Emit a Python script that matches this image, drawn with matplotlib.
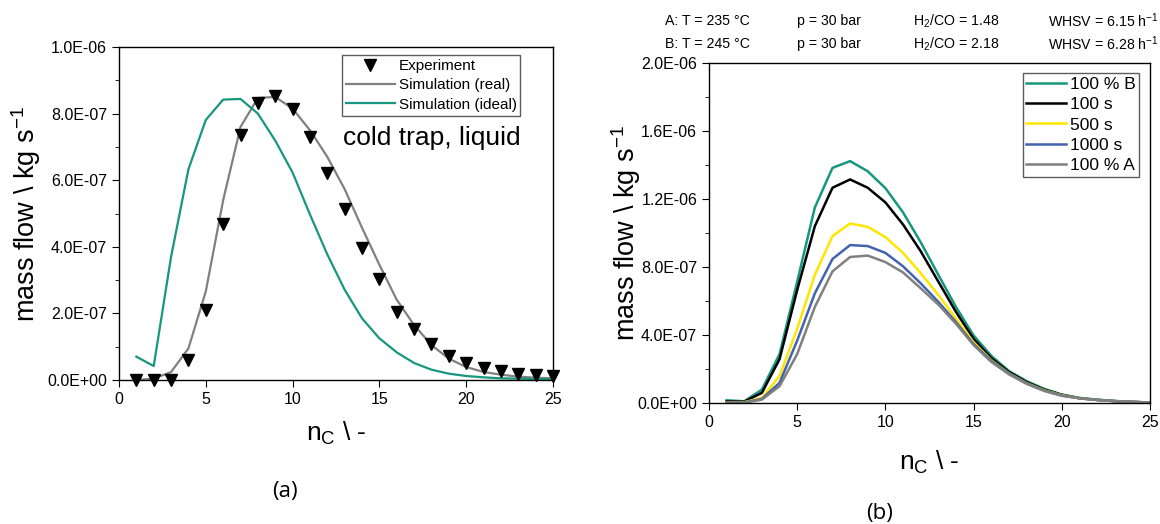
import matplotlib
matplotlib.use("Agg")
import matplotlib.pyplot as plt
from matplotlib.ticker import FuncFormatter, MultipleLocator

plt.rcParams['font.family'] = ['Liberation Sans', 'DejaVu Sans']

# ---- panel (a): cold trap, liquid ----
nc = list(range(1, 26))
experiment = [0.0, 0.0, 0.0, 0.6, 2.1, 4.67, 7.37, 8.32, 8.54, 8.14, 7.29, 6.21, 5.13,
              3.97, 3.03, 2.05, 1.53, 1.08, 0.72, 0.50, 0.36, 0.26, 0.19, 0.14, 0.11]
sim_real = [0.0, 0.04, 0.24, 0.95, 2.66, 5.4, 7.6, 8.47, 8.5, 8.15, 7.5, 6.7, 5.73,
            4.57, 3.46, 2.41, 1.65, 1.05, 0.64, 0.39, 0.24, 0.16, 0.10, 0.07, 0.05]
sim_ideal = [0.7, 0.42, 3.7, 6.33, 7.81, 8.42, 8.44, 8.0, 7.19, 6.23, 4.97, 3.77, 2.71,
             1.85, 1.25, 0.83, 0.51, 0.31, 0.19, 0.12, 0.08, 0.05, 0.04, 0.03, 0.02]

# ---- panel (b): transition A -> B ----
tail = [0.28, 0.18, 0.11, 0.06, 0.03]
b_full = [0.16, 0.10, 0.79, 2.88, 7.14, 11.5, 13.83, 14.23, 13.63, 12.64, 11.21, 9.46, 7.54,
          5.65, 3.97, 2.78, 1.88, 1.29, 0.83, 0.50] + [0.30, 0.20, 0.12, 0.07, 0.03]
t100 = [0.10, 0.08, 0.60, 2.58, 6.65, 10.4, 12.66, 13.15, 12.66, 11.8, 10.5, 8.93, 7.14,
        5.36, 3.77, 2.64, 1.83, 1.23, 0.79, 0.48] + tail
t500 = [0.05, 0.05, 0.30, 1.59, 4.37, 7.54, 9.82, 10.56, 10.36, 9.76, 8.83, 7.64, 6.35,
        4.96, 3.57, 2.52, 1.75, 1.17, 0.75, 0.46] + tail
t1000 = [0.03, 0.03, 0.24, 1.19, 3.67, 6.45, 8.47, 9.29, 9.23, 8.83, 8.04, 7.04, 5.95,
         4.76, 3.47, 2.48, 1.73, 1.15, 0.73, 0.44] + tail
a_full = [0.02, 0.02, 0.20, 0.99, 2.88, 5.65, 7.74, 8.59, 8.67, 8.29, 7.68, 6.75, 5.79,
          4.66, 3.41, 2.42, 1.69, 1.13, 0.71, 0.42] + tail

series_b = [("100 % B", b_full, "#17977f"),
            ("100 s", t100, "black"),
            ("500 s", t500, "#ffe600"),
            ("1000 s", t1000, "#4264b0"),
            ("100 % A", a_full, "#808080")]

header_rows = [["A: T = 235 °C", "p = 30 bar", "H$_\\mathregular{2}$/CO = 1.48",
                "WHSV = 6.15 h$^\\mathregular{-1}$"],
               ["B: T = 245 °C", "p = 30 bar", "H$_\\mathregular{2}$/CO = 2.18",
                "WHSV = 6.28 h$^\\mathregular{-1}$"]]
header_x = [665, 797, 913, 1048]
header_y = [21, 44]

e7 = 1e-7
sci = FuncFormatter(lambda v, pos: "%.1E" % v)


def style_axes(ax):
    ax.tick_params(axis='both', which='both', direction='out', labelsize=11.5,
                   top=False, right=False)
    ax.tick_params(which='major', length=5)
    ax.tick_params(which='minor', length=3)
    ax.set_xlim(0, 25)
    ax.xaxis.set_major_locator(MultipleLocator(5))
    ax.yaxis.set_major_formatter(sci)
    for s in ax.spines.values():
        s.set_linewidth(1.0)
    ax.set_xlabel("n$_\\mathregular{C}$ \\ -", fontsize=19)
    ax.set_ylabel("mass flow \\ kg s$^\\mathregular{-1}$", fontsize=19.5)


fig = plt.figure(figsize=(11.6, 5.24), dpi=100)
W, H = 1160, 524

# panel (a)
ax1 = fig.add_axes([119 / W, 1 - 380 / H, 434 / W, 333 / H])
ax1.plot(nc, [v * e7 for v in sim_real], color="#808080", lw=1.6,
         label="Simulation (real)", zorder=2)
ax1.plot(nc, [v * e7 for v in sim_ideal], color="#17977f", lw=1.6,
         label="Simulation (ideal)", zorder=2)
ax1.plot(nc, [v * e7 for v in experiment], linestyle='none', marker='v', ms=8,
         color='black', label="Experiment", zorder=3, clip_on=False)
ax1.set_ylim(0, 1e-6)
ax1.yaxis.set_major_locator(MultipleLocator(2e-7))
ax1.yaxis.set_minor_locator(MultipleLocator(1e-7))
style_axes(ax1)
ax1.xaxis.set_label_coords(0.5, -0.12)
ax1.yaxis.set_label_coords(-0.175, 0.5)
h, l = ax1.get_legend_handles_labels()
order = [2, 0, 1]
leg1 = ax1.legend([h[i] for i in order], [l[i] for i in order], loc='upper right',
                  bbox_to_anchor=(0.925, 0.975), fontsize=11, frameon=True, fancybox=False,
                  edgecolor='#333333', borderpad=0.25, labelspacing=0.35, handlelength=3.2,
                  handletextpad=0.25, borderaxespad=0)
leg1.get_frame().set_linewidth(1.0)
ax1.text(0.925, 0.727, "cold trap, liquid", transform=ax1.transAxes, ha='right',
         va='center', fontsize=19)

# panel (b)
ax2 = fig.add_axes([709 / W, 1 - 403 / H, 441 / W, 340 / H])
for name, vals, col in series_b:
    ax2.plot(nc, [v * e7 for v in vals], color=col, lw=1.8, label=name)
ax2.set_ylim(0, 2e-6)
ax2.yaxis.set_major_locator(MultipleLocator(4e-7))
ax2.yaxis.set_minor_locator(MultipleLocator(2e-7))
style_axes(ax2)
ax2.xaxis.set_label_coords(0.5, -0.135)
ax2.yaxis.set_label_coords(-0.15, 0.5)
leg2 = ax2.legend(loc='upper right', bbox_to_anchor=(0.975, 0.97), fontsize=12.5,
                  frameon=True, fancybox=False, edgecolor='#333333', borderpad=0.2,
                  labelspacing=0.3, handlelength=2.3, handletextpad=0.2, borderaxespad=0)
leg2.get_frame().set_linewidth(1.0)

for row, yy in zip(header_rows, header_y):
    for txt, xx in zip(row, header_x):
        fig.text(xx / W, 1 - yy / H, txt, ha='left', va='center', fontsize=10.2)

fig.text(285 / W, 1 - 492 / H, "(a)", ha='center', va='center', fontsize=16,
         family=['Open Sans', 'DejaVu Sans'])
fig.text(880 / W, 1 - 513 / H, "(b)", ha='center', va='center', fontsize=16,
         family=['Open Sans', 'DejaVu Sans'])

fig.savefig("out.png", dpi=100)
